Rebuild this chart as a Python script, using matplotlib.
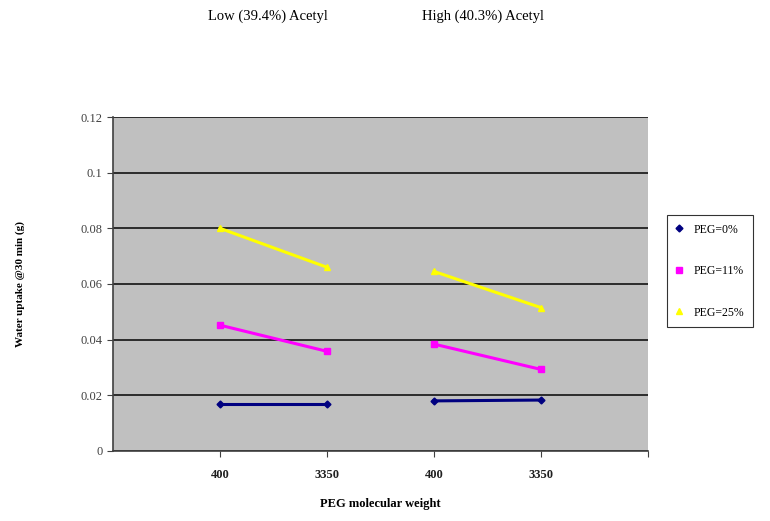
import numpy as np
import matplotlib.pyplot as plt

plt.rcParams['font.family'] = ['Liberation Serif', 'DejaVu Serif']

# categories (two acetyl groups x two PEG weights)
cat_labels = ['400', '3350', '400', '3350']
groups = ['Low (39.4%) Acetyl', 'High (40.3%) Acetyl']

# water uptake values, order: low-400, low-3350, high-400, high-3350
peg0 = [0.0169, 0.0169, 0.0180, 0.0183]
peg11 = [0.0452, 0.0358, 0.0384, 0.0293]
peg25 = [0.0800, 0.0660, 0.0645, 0.0515]

series = [
  ('PEG=0%', peg0, '#000080', 'D', 3.5),
  ('PEG=11%', peg11, '#FF00FF', 's', 4.5),
  ('PEG=25%', peg25, '#FFFF00', '^', 5),
]

fig = plt.figure(figsize=(7.7, 5.21), dpi=100)
ax = fig.add_axes([0.1468, 0.1344, 0.6948, 0.641])
ax.set_facecolor('#C0C0C0')

x = np.arange(1, len(cat_labels) + 1)
handles = []
for name, vals, col, mk, ms in series:
  vals = np.array(vals)
  for g in range(2):
    sl = slice(2 * g, 2 * g + 2)
    h, = ax.plot(x[sl], vals[sl], color=col, marker=mk, markersize=ms, lw=2.2,
                 label=name if g == 0 else None, zorder=3)
    if g == 0:
      handles.append(h)

ax.set_xlim(0, 5)
ax.set_ylim(0, 0.12)
ax.set_yticks([0, 0.02, 0.04, 0.06, 0.08, 0.1, 0.12])
ax.set_yticklabels(['0', '0.02', '0.04', '0.06', '0.08', '0.1', '0.12'],
                   fontsize=9, color='#404040')
ax.set_xticks([1, 2, 3, 4, 5])
ax.set_xticklabels(cat_labels + [''], fontsize=9, fontweight='bold', color='#202020')
ax.tick_params(axis='x', length=4, pad=9, color='#404040')
ax.tick_params(axis='y', length=4, color='#404040')
ax.yaxis.grid(True, color='#202020', lw=1.3)
ax.set_axisbelow(True)
for s in ['top', 'right']:
  ax.spines[s].set_visible(False)
for s in ['left', 'bottom']:
  ax.spines[s].set_color('#404040')
  ax.spines[s].set_linewidth(1.2)

ax.set_xlabel('PEG molecular weight', fontsize=9, fontweight='bold', labelpad=12)
ax.set_ylabel('Water uptake @30 min (g)', fontsize=8, fontweight='bold', labelpad=40)

fig.text(0.348, 0.968, groups[0], ha='center', va='center', fontsize=10.5)
fig.text(0.627, 0.968, groups[1], ha='center', va='center', fontsize=10.5)

leg = fig.legend(handles=handles, loc='upper left', bbox_to_anchor=(0.866, 0.588),
                 fontsize=8.5, frameon=True, fancybox=False, edgecolor='black',
                 labelspacing=2.5, handlelength=0.6, borderpad=0.75, handletextpad=0.9,
                 borderaxespad=0)
for h in leg.legend_handles:
  h.set_linestyle('none')
leg.get_frame().set_linewidth(0.8)

fig.savefig('out.png', dpi=100)
